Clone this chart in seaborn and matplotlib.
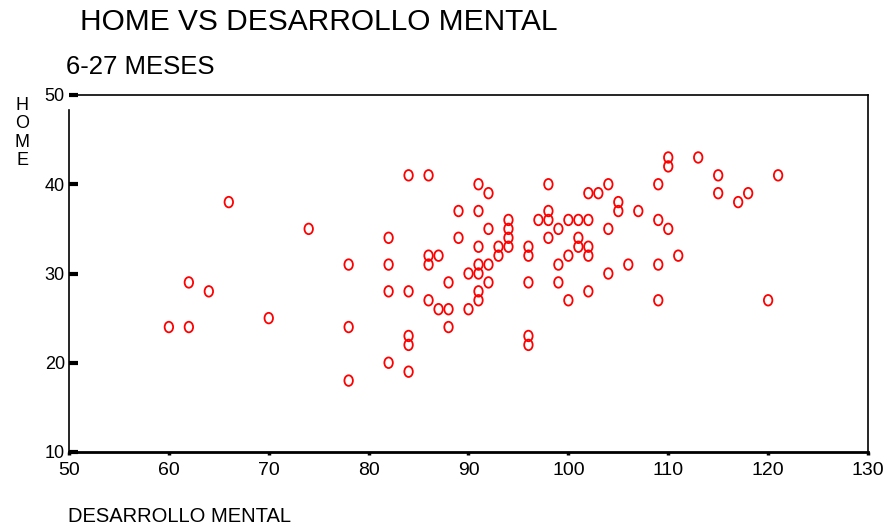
import matplotlib
matplotlib.use("Agg")
import matplotlib.pyplot as plt
from matplotlib.path import Path
from matplotlib.transforms import Affine2D
import seaborn as sns
import pandas as pd

# Mental development score vs HOME score, children aged 6-27 months
desarrollo_mental = [
    60, 62, 62, 64, 66, 70, 74, 78, 78, 78,
    82, 82, 82, 82, 84, 84, 84, 84, 84, 86,
    86, 86, 86, 87, 87, 88, 88, 88, 89, 89,
    90, 90, 91, 91, 91, 91, 91, 91, 91, 92,
    92, 92, 92, 93, 93, 94, 94, 94, 94, 96,
    96, 96, 96, 96, 97, 98, 98, 98, 98, 99,
    99, 99, 100, 100, 100, 101, 101, 101, 102, 102,
    102, 102, 102, 103, 104, 104, 104, 105, 105, 106,
    107, 109, 109, 109, 109, 110, 110, 110, 111, 113,
    115, 115, 117, 118, 120, 121,
]
home = [
    24, 24, 29, 28, 38, 25, 35, 31, 24, 18,
    34, 31, 28, 20, 41, 28, 23, 22, 19, 41,
    32, 31, 27, 32, 26, 29, 26, 24, 37, 34,
    30, 26, 40, 37, 33, 31, 30, 28, 27, 39,
    35, 31, 29, 33, 32, 36, 35, 34, 33, 33,
    32, 29, 23, 22, 36, 40, 37, 36, 34, 35,
    31, 29, 36, 32, 27, 36, 34, 33, 39, 36,
    33, 32, 28, 39, 40, 35, 30, 38, 37, 31,
    37, 40, 36, 31, 27, 43, 42, 35, 32, 43,
    41, 39, 38, 39, 27, 41,
]
x_ticks = [50, 60, 70, 80, 90, 100, 110, 120, 130]
y_ticks = [10, 20, 30, 40, 50]

sns.set_style("white")
plt.rcParams["font.family"] = ["Liberation Sans", "DejaVu Sans"]
plt.rcParams["text.color"] = "black"

df = pd.DataFrame({"DESARROLLO MENTAL": desarrollo_mental, "HOME": home})

fig = plt.figure(figsize=(8.83, 5.26), dpi=100)
ax = fig.add_axes([69 / 883, 74 / 526, 799 / 883, 357 / 526])

# slightly tall open circle marker
oval = Path.unit_circle().transformed(Affine2D().scale(0.8, 1.0))
sns.scatterplot(
    data=df, x="DESARROLLO MENTAL", y="HOME", ax=ax,
    marker=oval, s=58, facecolor="none", edgecolor="#ff0000",
    linewidth=1.3, legend=False,
)

ax.set_xlim(50, 130)
ax.set_ylim(10, 50)
ax.set_xticks(x_ticks)
ax.set_yticks(y_ticks)
ax.set_xlabel("")
ax.set_ylabel("")

for side in ["left", "right", "top", "bottom"]:
    ax.spines[side].set_visible(True)
    ax.spines[side].set_color("black")
ax.spines["left"].set_linewidth(1.2)
ax.spines["right"].set_linewidth(1.2)
ax.spines["top"].set_linewidth(1.2)
ax.spines["bottom"].set_linewidth(2.0)
ax.spines["left"].set_bounds(10, 48.3)
ax.spines["top"].set_bounds(50.8, 130)

ax.tick_params(axis="y", direction="in", length=6.5, width=3, labelsize=13,
               pad=3, colors="black", left=True)
ax.tick_params(axis="x", direction="out", length=2.5, width=2.5, labelsize=14,
               pad=5, colors="black", bottom=True)

fig.text(80 / 883, 1 - 22 / 526, "HOME VS DESARROLLO MENTAL",
         fontsize=21.5, ha="left", va="center", color="black")
fig.text(66 / 883, 1 - 67 / 526, "6-27 MESES",
         fontsize=18.5, ha="left", va="center", color="black")
fig.text(22 / 883, 1 - 133 / 526, "H\nO\nM\nE",
         fontsize=13, ha="center", va="center", linespacing=1.08,
         color="black")
fig.text(68 / 883, 1 - 516 / 526, "DESARROLLO MENTAL",
         fontsize=14.5, ha="left", va="center", color="black")

fig.savefig("out.png", dpi=100)
